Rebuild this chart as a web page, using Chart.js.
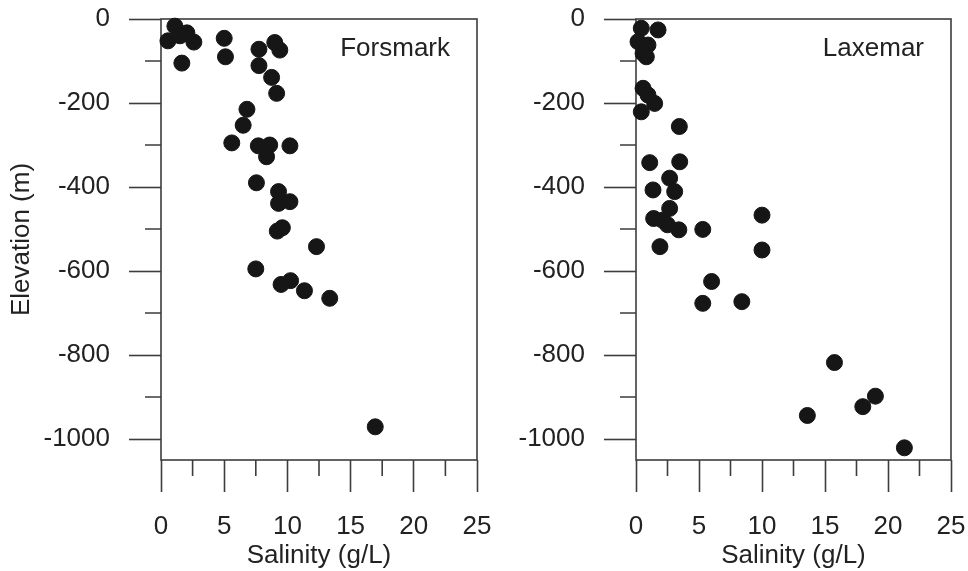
<!DOCTYPE html>
<html lang="en">
<head>
  <meta charset="UTF-8" />
  <title>Salinity vs elevation</title>
  <style>
    body { margin: 0; background: #fff; }
    #wrap { position: relative; width: 968px; height: 571px; }
    canvas { position: absolute; top: 0; }
    #forsmark { left: 0; }
    #laxemar { left: 480px; }
  </style>
</head>
<body>
  <div id="wrap">
    <canvas id="forsmark" width="500" height="571"></canvas>
    <canvas id="laxemar" width="488" height="571"></canvas>
  </div>

  <script src="https://cdn.jsdelivr.net/npm/chart.js"></script>
  <script>
    // groundwater samples, salinity (g/L) against elevation (m)
    const forsmarkSalinity = [1.1, 0.55, 1.5, 2.05, 2.6, 1.65, 5.0, 5.1, 7.75, 9.0, 9.4, 7.75, 8.75, 9.15,
      6.8, 6.5, 5.6, 7.7, 8.6, 8.35, 10.2, 7.55, 9.3, 10.2, 9.3, 9.2, 9.6, 12.3, 7.5, 9.5, 10.25,
      11.35, 13.35, 16.95];
    const forsmarkElevation = [-17, -52, -40, -33, -55, -105, -46, -90, -72, -56, -74, -111, -139, -177,
      -215, -253, -295, -302, -300, -328, -302, -390, -411, -435, -439, -505, -497, -542, -595, -632, -623,
      -647, -665, -971];

    const laxemarSalinity = [0.42, 1.75, 0.16, 0.95, 0.56, 0.82, 0.56, 0.95, 1.48, 0.42, 3.44, 1.09, 3.47,
      2.67, 3.07, 1.35, 2.67, 1.4, 2.1, 2.5, 3.4, 5.3, 10.0, 1.9, 10.0, 6.0, 5.3, 8.4, 15.75, 19.0, 18.0,
      13.6, 21.3];
    const laxemarElevation = [-22, -26, -54, -62, -82, -90, -165, -181, -201, -221, -256, -342, -340,
      -379, -411, -407, -451, -475, -479, -490, -502, -501, -467, -542, -550, -625, -677, -673, -818, -898, -923,
      -944, -1021];

    const salinityTicks = [0, 5, 10, 15, 20, 25];
    const elevationTicks = [0, -200, -400, -600, -800, -1000];

    const ink = '#3d3d3d';
    const fontFamily = '"Liberation Sans", Arial, sans-serif';

    // frame round the plot area, half-step minor ticks and the site name
    const panelDecor = {
      id: 'panelDecor',
      beforeDatasetsDraw(chart, args, opts) {
        const { ctx, chartArea: a, scales } = chart;
        ctx.save();
        ctx.strokeStyle = ink;
        ctx.lineWidth = 1.6;
        ctx.strokeRect(a.left, a.top, a.right - a.left, a.bottom - a.top);

        ctx.beginPath();
        for (let i = 0; i < elevationTicks.length - 1; i++) {
          const y = scales.y.getPixelForValue((elevationTicks[i] + elevationTicks[i + 1]) / 2);
          ctx.moveTo(a.left - 16, y);
          ctx.lineTo(a.left, y);
        }
        for (let i = 0; i < salinityTicks.length - 1; i++) {
          const x = scales.x.getPixelForValue((salinityTicks[i] + salinityTicks[i + 1]) / 2);
          ctx.moveTo(x, a.bottom);
          ctx.lineTo(x, a.bottom + 16);
        }
        ctx.stroke();

        ctx.fillStyle = '#222';
        ctx.font = '26px ' + fontFamily;
        ctx.textAlign = 'right';
        ctx.textBaseline = 'middle';
        ctx.fillText(opts.site, a.right - 27, a.top + 30);
        ctx.restore();
      }
    };

    function makePanel(id, site, salinity, elevation, yWidth, padRight) {
      const points = salinity.map((s, i) => ({ x: s, y: elevation[i] }));
      new Chart(document.getElementById(id), {
        type: 'scatter',
        data: {
          datasets: [{
            data: points,
            backgroundColor: '#161616',
            borderColor: '#161616',
            pointRadius: 8,
            pointHoverRadius: 8,
            clip: false
          }]
        },
        options: {
          responsive: false,
          animation: false,
          events: [],
          layout: { padding: { top: 19, right: padRight, bottom: 0, left: 0 } },
          plugins: {
            legend: { display: false },
            tooltip: { enabled: false },
            panelDecor: { site: site }
          },
          scales: {
            x: {
              type: 'linear',
              min: 0,
              max: 25,
              afterBuildTicks: s => { s.ticks = salinityTicks.map(v => ({ value: v })); },
              afterFit: s => { s.height = 111; s.paddingLeft = 0; s.paddingRight = 0; },
              border: { display: false },
              grid: { drawOnChartArea: false, tickLength: 32, tickColor: ink, tickWidth: 1.6 },
              ticks: {
                color: '#222', padding: 19, maxRotation: 0, font: { size: 26, family: fontFamily },
                callback: v => String(v)
              },
              title: {
                display: true, text: 'Salinity (g/L)', color: '#222',
                padding: { top: 0, bottom: 0 }, font: { size: 26, family: fontFamily }
              }
            },
            y: {
              type: 'linear',
              min: -1050,
              max: 0,
              afterBuildTicks: s => { s.ticks = elevationTicks.map(v => ({ value: v })); },
              afterFit: s => { s.width = yWidth; s.paddingTop = 0; s.paddingBottom = 0; },
              border: { display: false },
              grid: { drawOnChartArea: false, tickLength: 32, tickColor: ink, tickWidth: 1.6 },
              ticks: {
                color: '#222', padding: 19, font: { size: 26, family: fontFamily },
                callback: v => String(v)
              },
              title: {
                display: id === 'forsmark', text: 'Elevation (m)', color: '#222',
                padding: { top: 6, bottom: 0 }, font: { size: 26, family: fontFamily }
              }
            }
          }
        },
        plugins: [panelDecor]
      });
    }

    makePanel('forsmark', 'Forsmark', forsmarkSalinity, forsmarkElevation, 161, 23);
    makePanel('laxemar', 'Laxemar', laxemarSalinity, laxemarElevation, 156, 17);
  </script>
</body>
</html>
